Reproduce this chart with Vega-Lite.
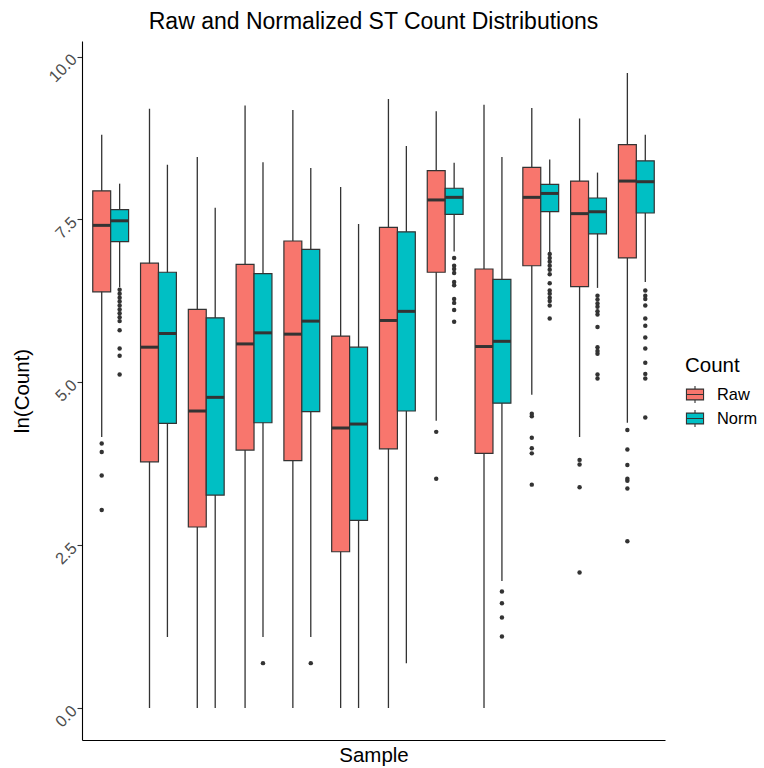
{
  "$schema": "https://vega.github.io/schema/vega-lite/v6.json",
  "width": 583,
  "height": 699,
  "autosize": {"type": "none"},
  "padding": {"left": 82, "top": 41, "right": 99, "bottom": 28},
  "background": "white",
  "title": {
    "text": "Raw and Normalized ST Count Distributions",
    "font": "Liberation Sans, Arial, sans-serif",
    "fontSize": 23,
    "fontWeight": "normal",
    "color": "black",
    "anchor": "middle",
    "baseline": "alphabetic",
    "offset": 12.5,
    "dy": 23.5
  },
  "datasets": {
    "boxes": [
      {"sample": "S01", "count": "Raw", "lower": 4.16, "q1": 6.39, "median": 7.41, "q3": 7.94, "upper": 8.80},
      {"sample": "S01", "count": "Norm", "lower": 6.46, "q1": 7.16, "median": 7.48, "q3": 7.65, "upper": 8.05},
      {"sample": "S02", "count": "Raw", "lower": 0, "q1": 3.78, "median": 5.54, "q3": 6.83, "upper": 9.20},
      {"sample": "S02", "count": "Norm", "lower": 1.09, "q1": 4.37, "median": 5.75, "q3": 6.69, "upper": 8.34},
      {"sample": "S03", "count": "Raw", "lower": 0, "q1": 2.78, "median": 4.56, "q3": 6.12, "upper": 8.46},
      {"sample": "S03", "count": "Norm", "lower": 0, "q1": 3.27, "median": 4.77, "q3": 5.99, "upper": 7.68},
      {"sample": "S04", "count": "Raw", "lower": 0, "q1": 3.96, "median": 5.59, "q3": 6.81, "upper": 9.25},
      {"sample": "S04", "count": "Norm", "lower": 1.09, "q1": 4.38, "median": 5.76, "q3": 6.67, "upper": 8.38},
      {"sample": "S05", "count": "Raw", "lower": 0, "q1": 3.80, "median": 5.74, "q3": 7.17, "upper": 9.18},
      {"sample": "S05", "count": "Norm", "lower": 1.09, "q1": 4.55, "median": 5.94, "q3": 7.04, "upper": 8.29},
      {"sample": "S06", "count": "Raw", "lower": 0, "q1": 2.40, "median": 4.30, "q3": 5.71, "upper": 8.00},
      {"sample": "S06", "count": "Norm", "lower": 0, "q1": 2.88, "median": 4.36, "q3": 5.54, "upper": 7.43},
      {"sample": "S07", "count": "Raw", "lower": 0, "q1": 3.98, "median": 5.95, "q3": 7.38, "upper": 9.35},
      {"sample": "S07", "count": "Norm", "lower": 0.69, "q1": 4.56, "median": 6.09, "q3": 7.31, "upper": 8.63},
      {"sample": "S08", "count": "Raw", "lower": 4.41, "q1": 6.69, "median": 7.80, "q3": 8.25, "upper": 9.16},
      {"sample": "S08", "count": "Norm", "lower": 7.01, "q1": 7.58, "median": 7.84, "q3": 7.98, "upper": 8.37},
      {"sample": "S09", "count": "Raw", "lower": 0, "q1": 3.91, "median": 5.55, "q3": 6.74, "upper": 9.26},
      {"sample": "S09", "count": "Norm", "lower": 1.95, "q1": 4.68, "median": 5.63, "q3": 6.58, "upper": 8.46},
      {"sample": "S10", "count": "Raw", "lower": 4.81, "q1": 6.79, "median": 7.84, "q3": 8.30, "upper": 9.21},
      {"sample": "S10", "count": "Norm", "lower": 7.00, "q1": 7.62, "median": 7.90, "q3": 8.04, "upper": 8.42},
      {"sample": "S11", "count": "Raw", "lower": 4.16, "q1": 6.47, "median": 7.59, "q3": 8.09, "upper": 9.05},
      {"sample": "S11", "count": "Norm", "lower": 6.45, "q1": 7.28, "median": 7.62, "q3": 7.83, "upper": 8.22},
      {"sample": "S12", "count": "Raw", "lower": 4.38, "q1": 6.91, "median": 8.09, "q3": 8.65, "upper": 9.75},
      {"sample": "S12", "count": "Norm", "lower": 6.54, "q1": 7.60, "median": 8.08, "q3": 8.40, "upper": 8.80}
    ],
    "outliers": [
      {"sample": "S01", "count": "Raw", "value": 4.06},
      {"sample": "S01", "count": "Raw", "value": 3.93},
      {"sample": "S01", "count": "Raw", "value": 3.57},
      {"sample": "S01", "count": "Raw", "value": 3.04},
      {"sample": "S01", "count": "Norm", "value": 6.42},
      {"sample": "S01", "count": "Norm", "value": 6.36},
      {"sample": "S01", "count": "Norm", "value": 6.30},
      {"sample": "S01", "count": "Norm", "value": 6.24},
      {"sample": "S01", "count": "Norm", "value": 6.18},
      {"sample": "S01", "count": "Norm", "value": 6.12},
      {"sample": "S01", "count": "Norm", "value": 6.06},
      {"sample": "S01", "count": "Norm", "value": 6.00},
      {"sample": "S01", "count": "Norm", "value": 5.94},
      {"sample": "S01", "count": "Norm", "value": 5.80},
      {"sample": "S01", "count": "Norm", "value": 5.52},
      {"sample": "S01", "count": "Norm", "value": 5.41},
      {"sample": "S01", "count": "Norm", "value": 5.12},
      {"sample": "S04", "count": "Norm", "value": 0.69},
      {"sample": "S05", "count": "Norm", "value": 0.69},
      {"sample": "S08", "count": "Raw", "value": 4.24},
      {"sample": "S08", "count": "Raw", "value": 3.52},
      {"sample": "S08", "count": "Norm", "value": 6.91},
      {"sample": "S08", "count": "Norm", "value": 6.79},
      {"sample": "S08", "count": "Norm", "value": 6.74},
      {"sample": "S08", "count": "Norm", "value": 6.68},
      {"sample": "S08", "count": "Norm", "value": 6.54},
      {"sample": "S08", "count": "Norm", "value": 6.49},
      {"sample": "S08", "count": "Norm", "value": 6.28},
      {"sample": "S08", "count": "Norm", "value": 6.22},
      {"sample": "S08", "count": "Norm", "value": 6.11},
      {"sample": "S08", "count": "Norm", "value": 5.93},
      {"sample": "S09", "count": "Norm", "value": 1.79},
      {"sample": "S09", "count": "Norm", "value": 1.61},
      {"sample": "S09", "count": "Norm", "value": 1.39},
      {"sample": "S09", "count": "Norm", "value": 1.10},
      {"sample": "S10", "count": "Raw", "value": 4.52},
      {"sample": "S10", "count": "Raw", "value": 4.48},
      {"sample": "S10", "count": "Raw", "value": 4.15},
      {"sample": "S10", "count": "Raw", "value": 3.99},
      {"sample": "S10", "count": "Raw", "value": 3.91},
      {"sample": "S10", "count": "Raw", "value": 3.43},
      {"sample": "S10", "count": "Norm", "value": 6.97},
      {"sample": "S10", "count": "Norm", "value": 6.91},
      {"sample": "S10", "count": "Norm", "value": 6.85},
      {"sample": "S10", "count": "Norm", "value": 6.79},
      {"sample": "S10", "count": "Norm", "value": 6.73},
      {"sample": "S10", "count": "Norm", "value": 6.66},
      {"sample": "S10", "count": "Norm", "value": 6.52},
      {"sample": "S10", "count": "Norm", "value": 6.41},
      {"sample": "S10", "count": "Norm", "value": 6.36},
      {"sample": "S10", "count": "Norm", "value": 6.30},
      {"sample": "S10", "count": "Norm", "value": 6.25},
      {"sample": "S10", "count": "Norm", "value": 6.18},
      {"sample": "S10", "count": "Norm", "value": 5.98},
      {"sample": "S11", "count": "Raw", "value": 3.81},
      {"sample": "S11", "count": "Raw", "value": 3.74},
      {"sample": "S11", "count": "Raw", "value": 3.39},
      {"sample": "S11", "count": "Raw", "value": 2.08},
      {"sample": "S11", "count": "Norm", "value": 6.33},
      {"sample": "S11", "count": "Norm", "value": 6.27},
      {"sample": "S11", "count": "Norm", "value": 6.21},
      {"sample": "S11", "count": "Norm", "value": 6.16},
      {"sample": "S11", "count": "Norm", "value": 6.09},
      {"sample": "S11", "count": "Norm", "value": 6.04},
      {"sample": "S11", "count": "Norm", "value": 5.85},
      {"sample": "S11", "count": "Norm", "value": 5.54},
      {"sample": "S11", "count": "Norm", "value": 5.48},
      {"sample": "S11", "count": "Norm", "value": 5.44},
      {"sample": "S11", "count": "Norm", "value": 5.12},
      {"sample": "S11", "count": "Norm", "value": 5.06},
      {"sample": "S12", "count": "Raw", "value": 4.27},
      {"sample": "S12", "count": "Raw", "value": 3.97},
      {"sample": "S12", "count": "Raw", "value": 3.73},
      {"sample": "S12", "count": "Raw", "value": 3.52},
      {"sample": "S12", "count": "Raw", "value": 3.49},
      {"sample": "S12", "count": "Raw", "value": 3.37},
      {"sample": "S12", "count": "Raw", "value": 2.56},
      {"sample": "S12", "count": "Norm", "value": 6.41},
      {"sample": "S12", "count": "Norm", "value": 6.33},
      {"sample": "S12", "count": "Norm", "value": 6.28},
      {"sample": "S12", "count": "Norm", "value": 6.18},
      {"sample": "S12", "count": "Norm", "value": 5.98},
      {"sample": "S12", "count": "Norm", "value": 5.87},
      {"sample": "S12", "count": "Norm", "value": 5.69},
      {"sample": "S12", "count": "Norm", "value": 5.52},
      {"sample": "S12", "count": "Norm", "value": 5.30},
      {"sample": "S12", "count": "Norm", "value": 5.13},
      {"sample": "S12", "count": "Norm", "value": 5.06},
      {"sample": "S12", "count": "Norm", "value": 4.46}
    ]
  },
  "encoding": {
    "x": {
      "field": "sample",
      "type": "nominal",
      "title": "Sample",
      "scale": {
        "domain": ["S01", "S02", "S03", "S04", "S05", "S06", "S07", "S08", "S09", "S10", "S11", "S12"],
        "paddingInner": 0.25,
        "paddingOuter": 0.225
      }
    },
    "xOffset": {
      "field": "count",
      "type": "nominal",
      "scale": {"domain": ["Raw", "Norm"], "paddingInner": 0, "paddingOuter": 0}
    }
  },
  "layer": [
    {
      "data": {"name": "boxes"},
      "mark": {"type": "rule", "color": "#333333", "strokeWidth": 1.3},
      "encoding": {
        "y": {
          "field": "lower",
          "type": "quantitative",
          "title": "ln(Count)",
          "scale": {"domain": [-0.49, 10.24], "nice": false, "zero": false},
          "axis": {"values": [0, 2.5, 5, 7.5, 10], "format": ".1f"}
        },
        "y2": {"field": "upper"}
      }
    },
    {
      "data": {"name": "boxes"},
      "mark": {"type": "bar", "stroke": "#333333", "strokeWidth": 1.2, "opacity": 1},
      "encoding": {
        "y": {
          "field": "q1",
          "type": "quantitative",
          "title": "ln(Count)",
          "axis": {"values": [0, 2.5, 5, 7.5, 10], "format": ".1f"}
        },
        "y2": {"field": "q3"},
        "fill": {
          "field": "count",
          "type": "nominal",
          "title": "Count",
          "scale": {"domain": ["Raw", "Norm"], "range": ["#F8766D", "#00BFC4"]}
        }
      }
    },
    {
      "data": {"name": "boxes"},
      "mark": {"type": "tick", "orient": "horizontal", "color": "#333333", "thickness": 3, "size": 17.9, "opacity": 1},
      "encoding": {
        "y": {
          "field": "median",
          "type": "quantitative",
          "title": "ln(Count)",
          "axis": {"values": [0, 2.5, 5, 7.5, 10], "format": ".1f"}
        }
      }
    },
    {
      "data": {"name": "outliers"},
      "mark": {"type": "circle", "color": "#333333", "size": 20, "opacity": 1},
      "encoding": {
        "y": {
          "field": "value",
          "type": "quantitative",
          "title": "ln(Count)",
          "axis": {"values": [0, 2.5, 5, 7.5, 10], "format": ".1f"}
        }
      }
    }
  ],
  "config": {
    "font": "Liberation Sans, Arial, sans-serif",
    "view": {"stroke": null},
    "axis": {"grid": false},
    "axisX": {
      "labels": false,
      "ticks": false,
      "domainColor": "black",
      "domainWidth": 1.1,
      "titleFontSize": 20.5,
      "titleFontWeight": "normal",
      "titleColor": "black",
      "titlePadding": 5
    },
    "axisY": {
      "domainColor": "black",
      "domainWidth": 1.1,
      "tickColor": "#333333",
      "tickWidth": 1.1,
      "tickSize": 5,
      "labelFontSize": 16.4,
      "labelColor": "#4D4D4D",
      "labelAngle": -45,
      "labelAlign": "right",
      "labelBaseline": "middle",
      "labelPadding": 3,
      "titleFontSize": 20.5,
      "titleFontWeight": "normal",
      "titleColor": "black",
      "titleAngle": 270,
      "titleAlign": "center",
      "titleBaseline": "middle",
      "titleX": -60,
      "titleY": 349.5
    },
    "legend": {
      "orient": "none",
      "legendX": 603,
      "legendY": 315,
      "padding": 0,
      "titleFontSize": 20.5,
      "titleFontWeight": "normal",
      "titleColor": "black",
      "titlePadding": 8,
      "labelFontSize": 16.4,
      "labelColor": "black",
      "labelOffset": 12,
      "rowPadding": 2,
      "symbolType": "M-0.95,-0.6H0.95V0.6H-0.95Z M-0.95,0H0.95 M0,-0.6V-0.95 M0,0.6V0.95",
      "symbolSize": 324,
      "symbolStrokeColor": "#333333",
      "symbolStrokeWidth": 1.1,
      "symbolOpacity": 1
    }
  }
}
